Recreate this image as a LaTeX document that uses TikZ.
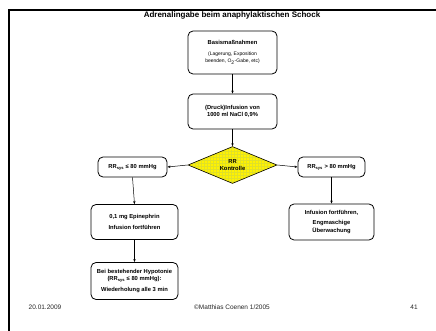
\documentclass[tikz,border=0pt]{standalone}
\usepackage{fontspec}
\setmainfont{Liberation Sans}
\usetikzlibrary{shapes.geometric,arrows.meta,patterns}
\definecolor{gridyel}{RGB}{225,225,40}
\newcommand{\smallnote}{\mdseries\fontsize{5}{6.5}\selectfont}
\tikzset{
  box/.style={draw=black, line width=0.8pt, rounded corners=5pt, fill=white, align=center,
    font=\fontsize{5.8}{7.5}\selectfont\bfseries, inner sep=2pt},
  conn/.style={draw=black, line width=0.5pt, -{Stealth[length=3pt,width=2.4pt]}},
  foot/.style={font=\fontsize{6.5}{8}\selectfont, text=black!85}
}
\begin{document}
\begin{tikzpicture}[x=1pt,y=-1pt]
\useasboundingbox (0,0) rectangle (436,331);
\fill[white] (0,0) rectangle (436,331);
\draw[line width=2.5pt] (9,331) -- (9,10) -- (436,10);
\node[font=\fontsize{8}{9}\selectfont\bfseries] (title) at (232,15.5) {Adrenalingabe beim anaphylaktischen Schock};

\node[box, minimum width=89pt, minimum height=43pt] (b1) at (232.5,52.5)
  {Basismaßnahmen\\[3pt]\smallnote (Lagerung, Exposition\\\smallnote beenden, O\textsubscript{2}-Gabe, etc)};
\node[box, minimum width=89pt, minimum height=35pt] (b2) at (232.5,111.5)
  {(Druck)Infusion von\\1000 ml NaCl 0,9\%};
\node[diamond, draw=black, line width=0.6pt, minimum width=89pt, minimum height=34pt, inner sep=0pt,
  preaction={fill=yellow}, pattern=grid, pattern color=gridyel, align=center,
  font=\fontsize{5.8}{7.5}\selectfont\bfseries] (dia) at (232.5,165) {RR\\Kontrolle};
\node[box, minimum width=69pt, minimum height=20pt] (l1) at (132.5,167)
  {RR\textsubscript{sys} ≤ 80 mmHg};
\node[box, minimum width=67pt, minimum height=20pt] (r1) at (331.5,167)
  {RR\textsubscript{sys} > 80 mmHg};
\node[box, minimum width=87pt, minimum height=35pt] (l2) at (134.5,222)
  {0,1 mg Epinephrin\\[3pt]Infusion fortführen};
\node[box, minimum width=87pt, minimum height=37pt] (l3) at (134.5,281)
  {Bei bestehender Hypotonie\\(RR\textsubscript{sys} ≤ 80 mmHg):\\[3pt]Wiederholung alle 3 min};
\node[box, minimum width=85pt, minimum height=36pt] (r2) at (331.5,222)
  {Infusion fortführen,\\[3pt]Engmaschige\\Überwachung};

\draw[conn] (b1.south) -- (b2.north);
\draw[conn] (b2.south) -- (dia.north);
\draw[conn] (dia.west) -- (l1.east);
\draw[conn] (dia.east) -- (r1.west);
\draw[conn] (l1.south) -- (l2.north);
\draw[conn] (l2.south) -- (l3.north);
\draw[conn] (r1.south) -- (r2.north);

\node[foot] (date) at (45,307) {20.01.2009};
\node[foot] (copy) at (232,307) {©Matthias Coenen 1/2005};
\node[foot] (page) at (414,307) {41};
\end{tikzpicture}
\end{document}
